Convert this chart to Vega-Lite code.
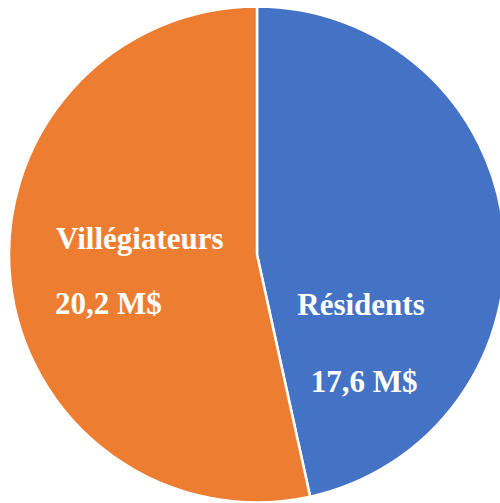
{
  "$schema": "https://vega.github.io/schema/vega-lite/v6.json",
  "width": 500,
  "height": 503,
  "autosize": {"type": "fit", "contains": "padding"},
  "padding": {"left": 14, "top": 6, "right": 0, "bottom": 0},
  "background": "white",
  "view": {"stroke": null},
  "data": {
    "values": [
      {"segment": "Résidents", "value": 17.6, "label": "17,6 M$", "order": 1},
      {"segment": "Villégiateurs", "value": 20.2, "label": "20,2 M$", "order": 2}
    ]
  },
  "layer": [
    {
      "mark": {"type": "arc", "outerRadius": 248, "stroke": "white", "strokeWidth": 2.5},
      "encoding": {
        "theta": {"field": "value", "type": "quantitative", "stack": true},
        "order": {"field": "order", "type": "quantitative"},
        "color": {
          "field": "segment",
          "type": "nominal",
          "scale": {"domain": ["Résidents", "Villégiateurs"], "range": ["#4472C4", "#ED7D31"]},
          "legend": null
        }
      }
    },
    {
      "transform": [{"filter": "datum.segment === 'Villégiateurs'"}],
      "mark": {"type": "text", "font": "Liberation Serif", "fontWeight": "bold", "fontSize": 31, "color": "white", "align": "left", "baseline": "alphabetic", "dx": -201, "dy": -6},
      "encoding": {"text": {"field": "segment"}}
    },
    {
      "transform": [{"filter": "datum.segment === 'Villégiateurs'"}],
      "mark": {"type": "text", "font": "Liberation Serif", "fontWeight": "bold", "fontSize": 31, "color": "white", "align": "left", "baseline": "alphabetic", "dx": -202, "dy": 59.5},
      "encoding": {"text": {"field": "label"}}
    },
    {
      "transform": [{"filter": "datum.segment === 'Résidents'"}],
      "mark": {"type": "text", "font": "Liberation Serif", "fontWeight": "bold", "fontSize": 31, "color": "white", "align": "center", "baseline": "alphabetic", "dx": 104, "dy": 60.5},
      "encoding": {"text": {"field": "segment"}}
    },
    {
      "transform": [{"filter": "datum.segment === 'Résidents'"}],
      "mark": {"type": "text", "font": "Liberation Serif", "fontWeight": "bold", "fontSize": 31, "color": "white", "align": "center", "baseline": "alphabetic", "dx": 107, "dy": 137.5},
      "encoding": {"text": {"field": "label"}}
    }
  ]
}
